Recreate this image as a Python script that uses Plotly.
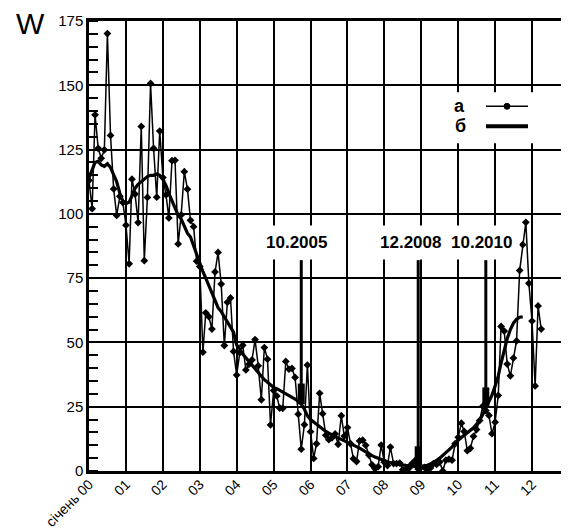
import plotly.graph_objects as go
import pandas as pd

# Monthly sunspot numbers W (a), Jan 2000 - Apr 2012
monthly = [
    113.0, 102.0, 138.5, 125.5, 121.6, 124.9, 170.1, 130.5, 109.7, 99.4, 106.8, 104.4,   # 2000
    95.6, 80.6, 113.5, 107.7, 96.6, 134.0, 81.8, 106.4, 150.7, 125.5, 106.5, 132.2,      # 2001
    114.1, 107.4, 98.4, 120.7, 120.8, 88.3, 99.6, 116.4, 109.6, 97.5, 95.0, 81.6,        # 2002
    79.5, 46.2, 61.5, 60.0, 55.2, 77.4, 85.0, 72.7, 48.8, 65.6, 67.3, 46.5,              # 2003
    37.3, 46.0, 48.9, 39.3, 41.5, 43.2, 51.1, 40.9, 27.7, 48.0, 43.5, 17.9,              # 2004
    31.3, 29.2, 24.5, 24.4, 42.6, 39.6, 39.9, 36.4, 22.1, 8.5, 18.0, 41.2,               # 2005
    15.3, 4.9, 10.6, 30.2, 22.3, 13.9, 12.2, 12.9, 14.4, 10.4, 21.5, 13.6,               # 2006
    16.9, 10.6, 4.8, 3.7, 11.7, 12.0, 10.0, 6.2, 2.4, 0.9, 1.7, 10.1,                    # 2007
    3.4, 2.1, 9.3, 2.9, 2.9, 3.1, 0.5, 0.5, 1.1, 2.9, 4.1, 0.8,                          # 2008
    1.5, 1.4, 0.7, 1.2, 2.9, 2.6, 3.5, 0.0, 4.2, 4.6, 4.2, 10.6,                         # 2009
    13.1, 18.6, 15.4, 7.9, 8.8, 13.5, 16.1, 19.6, 25.2, 23.5, 21.6, 14.5,                # 2010
    19.0, 29.4, 56.2, 54.4, 41.6, 37.0, 43.9, 50.6, 78.0, 88.0, 96.7, 73.0,              # 2011
    58.3, 33.1, 64.2, 55.2,                                                              # 2012
]

# Smoothed sunspot numbers (б), Jan 2000 - Oct 2011
smoothed = [
    114.0, 117.5, 120.0, 120.5, 119.0, 118.5, 119.5, 118.0, 115.5, 112.5, 108.0, 105.0,  # 2000
    104.0, 104.5, 107.0, 110.0, 111.5, 112.5, 113.5, 114.5, 115.0, 115.0, 115.5, 115.0,  # 2001
    113.5, 111.0, 108.0, 105.0, 102.0, 99.5, 98.0, 95.0, 92.5, 91.0, 87.5, 84.0,         # 2002
    80.5, 77.5, 75.0, 72.0, 69.0, 66.0, 63.5, 62.0, 60.0, 58.0, 56.0, 54.0,              # 2003
    49.0, 47.5, 45.5, 44.0, 42.5, 41.0, 39.5, 38.0, 36.5, 35.5, 34.5, 33.5,              # 2004
    32.5, 32.0, 31.4, 30.8, 30.0, 29.3, 28.8, 28.0, 27.0, 26.0, 24.0, 21.5,              # 2005
    20.0, 19.0, 18.0, 17.0, 16.2, 15.4, 14.7, 14.0, 13.3, 12.8, 12.3, 11.8,              # 2006
    11.3, 10.7, 10.1, 9.5, 8.9, 8.1, 7.4, 6.7, 6.0, 5.4, 4.9, 4.4,                       # 2007
    4.0, 3.6, 3.3, 3.0, 2.8, 2.6, 2.4, 2.2, 2.0, 1.8, 1.7, 1.6,                          # 2008
    1.7, 1.9, 2.2, 2.7, 3.3, 4.1, 5.0, 6.0, 7.0, 8.2, 9.4, 10.8,                         # 2009
    12.0, 13.0, 13.9, 14.8, 15.6, 16.8, 18.2, 19.8, 22.0, 24.5, 27.0, 29.5,              # 2010
    33.0, 37.0, 42.0, 47.0, 51.5, 55.0, 57.5, 59.0, 59.8, 60.0,                          # 2011
]

# Marked epochs
mark_dates = ["2005-10-01", "2008-12-01", "2010-10-01"]
mark_labels = ["10.2005", "12.2008", "10.2010"]
mark_label_shift = [-5, -8, -4]

# Axis ticks
tick_dates = [f"{y}-01-01" for y in range(2000, 2013)]
tick_text = ["січень 00", "01", "02", "03", "04", "05", "06", "07", "08", "09", "10", "11", "12"]
y_ticks = [0, 25, 50, 75, 100, 125, 150, 175]

m_dates = pd.date_range("2000-01-01", periods=len(monthly), freq="MS")
s_dates = pd.date_range("2000-01-01", periods=len(smoothed), freq="MS")
s_series = pd.Series(smoothed, index=s_dates)

FONT = "Liberation Sans, Arial, sans-serif"

fig = go.Figure()
fig.add_trace(go.Scatter(
    x=m_dates, y=monthly, mode="lines+markers", name="a",
    line=dict(color="black", width=1.5),
    marker=dict(symbol="diamond", size=6, color="black"),
    showlegend=False,
))
fig.add_trace(go.Scatter(
    x=s_dates, y=smoothed, mode="lines", name="б",
    line=dict(color="black", width=3.2),
    showlegend=False,
))

shapes = []
annotations = []
LINE_TOP = 82
LABEL_Y = 89
for d, lab, sh in zip(mark_dates, mark_labels, mark_label_shift):
    v = float(s_series[pd.Timestamp(d)])
    shapes.append(dict(type="line", xref="x", yref="y", x0=d, x1=d, y0=LINE_TOP, y1=v,
                       line=dict(color="black", width=3), layer="above"))
    shapes.append(dict(type="line", xref="x", yref="y", x0=d, x1=d, y0=v + 8, y1=v,
                       line=dict(color="black", width=7), layer="above"))
    annotations.append(dict(x=d, y=LABEL_Y, xref="x", yref="y", text=f"<b>{lab}</b>",
                            showarrow=False, xshift=sh, xanchor="center", yanchor="middle",
                            bgcolor="white", borderpad=7,
                            font=dict(family=FONT, size=17, color="black")))

# Manual legend (text to the left of the symbol); positions in screen pixels
def px_x(p):
    return (p - 89) / 480.0

def px_y(p):
    return (470.7 - p) / 450.0

shapes.append(dict(type="rect", xref="paper", yref="paper",
                   x0=px_x(440), x1=px_x(548), y0=px_y(143), y1=px_y(92),
                   fillcolor="white", line=dict(width=0), layer="above"))
shapes.append(dict(type="line", xref="paper", yref="paper",
                   x0=px_x(486), x1=px_x(528), y0=px_y(106), y1=px_y(106),
                   line=dict(color="black", width=1.5), layer="above"))
shapes.append(dict(type="circle", xref="paper", yref="paper",
                   x0=px_x(504), x1=px_x(510), y0=px_y(109), y1=px_y(103),
                   fillcolor="black", line=dict(color="black", width=1), layer="above"))
shapes.append(dict(type="line", xref="paper", yref="paper",
                   x0=px_x(486), x1=px_x(528), y0=px_y(126), y1=px_y(126),
                   line=dict(color="black", width=4), layer="above"))
annotations.append(dict(x=px_x(459), y=px_y(106), xref="paper", yref="paper",
                        text="<b>a</b>", showarrow=False, xanchor="center", yanchor="middle",
                        font=dict(family=FONT, size=18, color="black")))
annotations.append(dict(x=px_x(460), y=px_y(126), xref="paper", yref="paper",
                        text="<b>б</b>", showarrow=False, xanchor="center", yanchor="middle",
                        font=dict(family=FONT, size=18, color="black")))
annotations.append(dict(x=px_x(30), y=px_y(23), xref="paper", yref="paper",
                        text="W", showarrow=False, xanchor="center", yanchor="middle",
                        font=dict(family=FONT, size=30, color="black")))

# Page body has an 8px margin: figure is 561x523 so it fits the 569x531 window
fig.update_layout(
    width=561, height=523,
    margin=dict(l=81, r=0, t=13, b=60, autoexpand=False),
    paper_bgcolor="white", plot_bgcolor="white",
    font=dict(family=FONT, color="black"),
    shapes=shapes, annotations=annotations,
    showlegend=False,
)
fig.update_xaxes(
    type="date", range=["2000-01-01", "2013-01-01"],
    tickvals=tick_dates, ticktext=tick_text, tickangle=-45,
    tickfont=dict(family=FONT, size=14, color="black"),
    showgrid=True, gridcolor="black", gridwidth=2,
    showline=True, linecolor="black", linewidth=2.5, mirror=True,
    ticks="", zeroline=False, automargin=False, ticklabelstandoff=-3,
)
fig.update_yaxes(
    range=[0, 175], tickvals=y_ticks,
    tickfont=dict(family=FONT, size=15, color="black"),
    showgrid=True, gridcolor="black", gridwidth=2,
    showline=True, linecolor="black", linewidth=2.5,
    ticks="", zeroline=False, ticklabelstandoff=0, automargin=False,
    minor=dict(dtick=5, ticks="inside", ticklen=9, tickwidth=2, tickcolor="black", showgrid=False),
)

fig.write_html("out.html")
